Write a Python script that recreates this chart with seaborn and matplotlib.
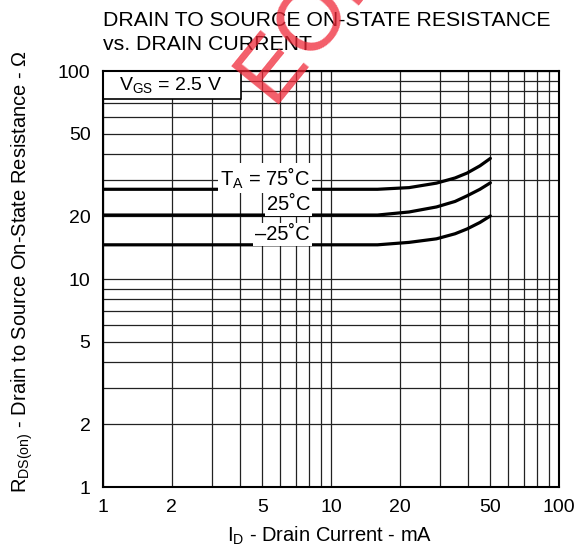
import numpy as np
import pandas as pd
import matplotlib
matplotlib.use("Agg")
import matplotlib.pyplot as plt
import seaborn as sns
from matplotlib.ticker import FixedLocator, NullFormatter, FixedFormatter
from matplotlib.patches import Rectangle

sns.set_theme(style="white")
plt.rcParams['font.family'] = ['Liberation Sans', 'DejaVu Sans']
plt.rcParams['mathtext.fontset'] = 'custom'
plt.rcParams['mathtext.rm'] = 'Liberation Sans'
plt.rcParams['mathtext.it'] = 'Liberation Sans'
plt.rcParams['mathtext.default'] = 'regular'
plt.rcParams['text.color'] = 'black'
plt.rcParams['axes.labelcolor'] = 'black'

# Data
current_ma = [1, 16, 22, 29, 35, 39.5, 45, 50]
r_75c = [27.0, 27.0, 27.5, 28.9, 30.6, 32.3, 35.0, 38.0]
r_25c = [20.3, 20.3, 21.0, 22.2, 23.6, 25.1, 27.0, 29.0]
r_m25c = [14.6, 14.6, 15.0, 15.6, 16.5, 17.4, 18.7, 20.1]
series_names = ["75", "25", "-25"]

major_ticks = [1, 2, 5, 10, 20, 50, 100]
tick_labels = ["1", "2", "5", "10", "20", "50", "100"]

df = pd.DataFrame({
    "I": current_ma * 3,
    "R": r_75c + r_25c + r_m25c,
    "T": sum([[n] * len(current_ma) for n in series_names], []),
})

W, H = 577, 550
fig = plt.figure(figsize=(W/100, H/100), dpi=100)
ax = fig.add_axes([103/W, 1-487/H, (559-103)/W, (487-71)/H])

ax.set_xscale("log")
ax.set_yscale("log")
ax.set_xlim(1, 100)
ax.set_ylim(1, 100)

grid_vals = [m * d for d in (1, 10) for m in range(1, 10)] + [100]
ax.xaxis.set_major_locator(FixedLocator(major_ticks))
ax.xaxis.set_major_formatter(FixedFormatter(tick_labels))
ax.xaxis.set_minor_locator(FixedLocator(grid_vals))
ax.xaxis.set_minor_formatter(NullFormatter())
ax.yaxis.set_major_locator(FixedLocator(major_ticks))
ax.yaxis.set_major_formatter(FixedFormatter(tick_labels))
ax.yaxis.set_minor_locator(FixedLocator(grid_vals))
ax.yaxis.set_minor_formatter(NullFormatter())
ax.grid(True, which="both", color="#222222", linewidth=0.9)
ax.tick_params(which="both", length=0, labelsize=14, colors="black")
ax.tick_params(axis="x", pad=9)
ax.tick_params(axis="y", pad=9)
ax.set_axisbelow(True)

sns.lineplot(data=df, x="I", y="R", units="T", estimator=None, color="black",
             linewidth=2.3, ax=ax, legend=False, zorder=3)
ax.set_xlabel("")
ax.set_ylabel("")

for s in ax.spines.values():
    s.set_color("black")
    s.set_linewidth(1.5)
    s.set_zorder(6)

# V_GS box
ax.add_patch(Rectangle((103/W, 1-99/H), (241-103)/W, 28/H,
                       transform=fig.transFigure, facecolor="white",
                       edgecolor="black", linewidth=1.2, zorder=4, clip_on=False))
fig.text(171/W, 1-85/H, "V$_{\\rm GS}$ = 2.5 V", fontsize=14,
         ha="center", va="center", zorder=7)

lab_kw = dict(fontsize=14.5, ha="right", va="center", zorder=5,
              bbox=dict(facecolor="white", edgecolor="none", pad=1.5))
ax.text(8.1, 30.6, "T$_{\\rm A}$ = 75˚C", **lab_kw)
ax.text(8.1, 22.7, "25˚C", **lab_kw)
ax.text(8.1, 16.3, "–25˚C", **lab_kw)

fig.text(330/W, 1-536/H, "I$_{\\rm D}$ - Drain Current - mA", fontsize=14.5,
         ha="center", va="center")
fig.text(22/W, 1-272/H, "R$_{\\rm DS(on)}$ - Drain to Source On-State Resistance - Ω",
         fontsize=14.5, ha="center", va="center", rotation=90)

fig.text(103/W, 1-20/H, "DRAIN TO SOURCE ON-STATE RESISTANCE", fontsize=15.3,
         ha="left", va="center")
fig.text(103/W, 1-44/H, "vs. DRAIN CURRENT", fontsize=15.3, ha="left", va="center")

# Watermark
fig.text(272/W, 1-104/H, "EOL", fontsize=64, color="#f02838", alpha=0.75,
         rotation=51, rotation_mode="anchor", ha="left", va="baseline",
         zorder=10)

fig.savefig("out.png", dpi=100)
